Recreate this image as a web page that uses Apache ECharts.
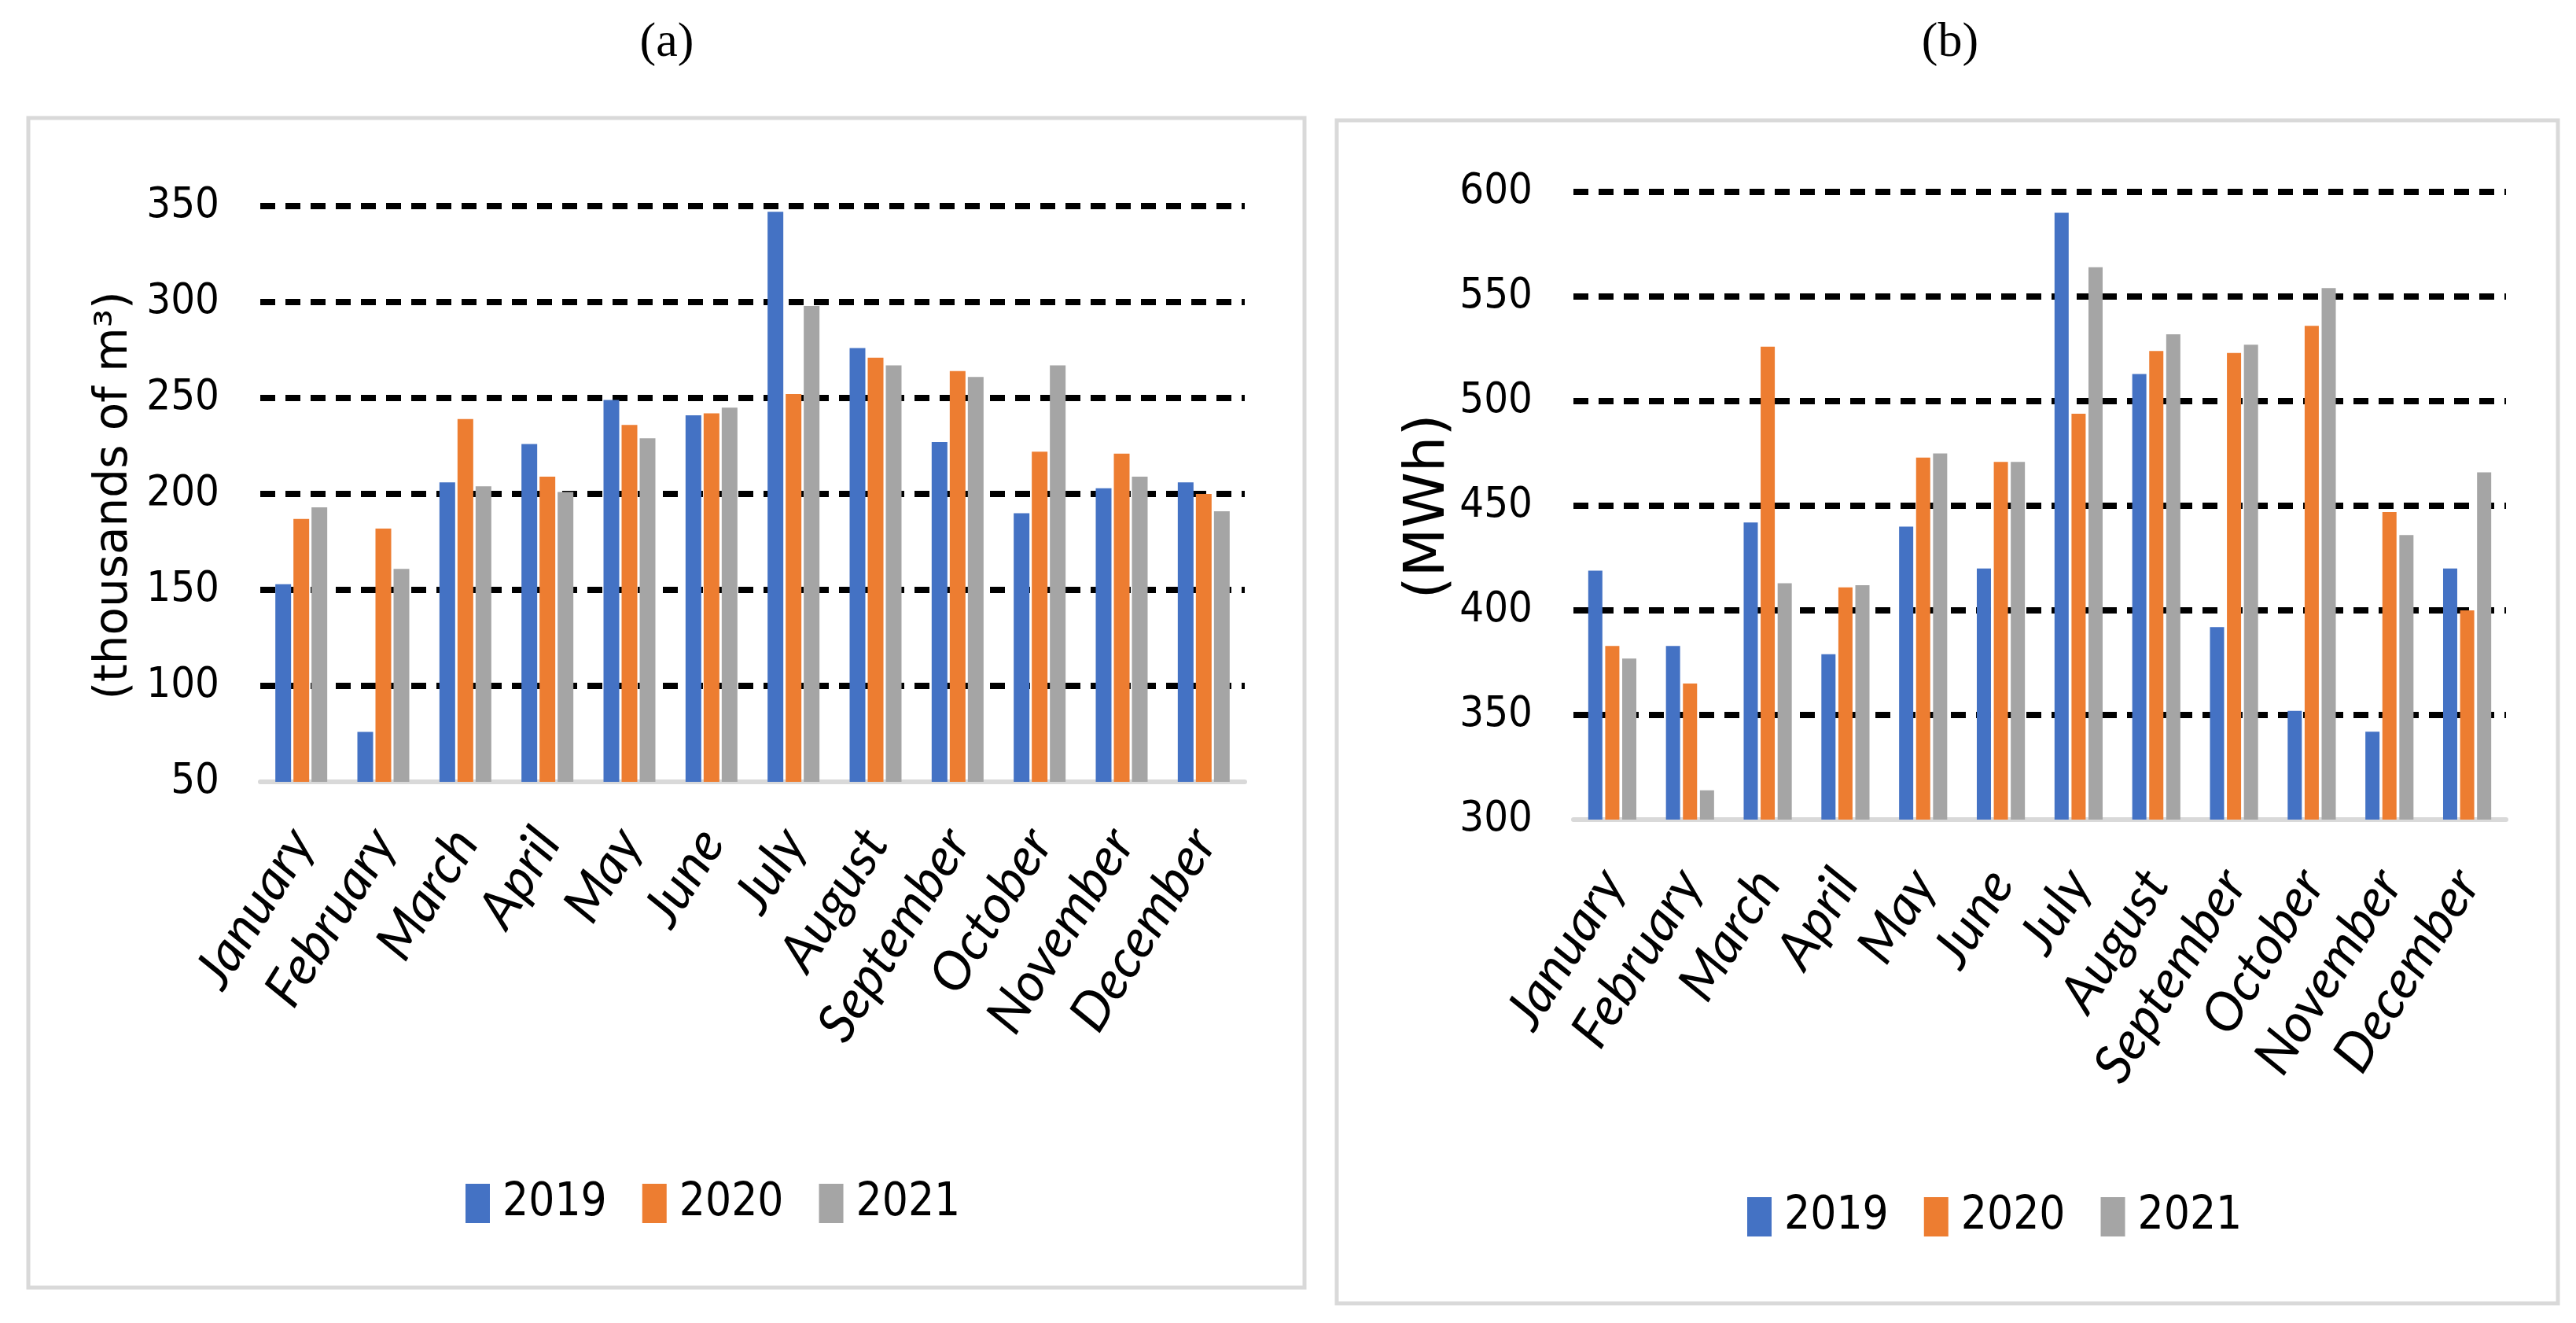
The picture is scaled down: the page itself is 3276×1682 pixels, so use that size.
<!DOCTYPE html>
<html>
<head>
<meta charset="utf-8">
<script src="https://cdn.jsdelivr.net/npm/echarts@6/dist/echarts.min.js"></script>
<style>
html,body{margin:0;padding:0;background:#fff;}
#chart{width:3276px;height:1682px;}
</style>
</head>
<body>
<div id="chart"></div>
<script>
// ---- data ----
const months = ['January','February','March','April','May','June','July','August','September','October','November','December'];
const years = ['2019','2020','2021'];
const water2019 = [153, 76, 206, 226, 249, 241, 347, 276, 227, 190, 203, 206];
const water2020 = [187, 182, 239, 209, 236, 242, 252, 271, 264, 222, 221, 200];
const water2021 = [193, 161, 204, 201, 229, 245, 298, 267, 261, 267, 209, 191];
const energy2019 = [419, 383, 442, 379, 440, 420, 590, 513, 392, 352, 342, 420];
const energy2020 = [383, 365, 526, 411, 473, 471, 494, 524, 523, 536, 447, 400];
const energy2021 = [377, 314, 413, 412, 475, 471, 564, 532, 527, 554, 436, 466];
const waterTicks = [50, 100, 150, 200, 250, 300, 350];
const energyTicks = [300, 350, 400, 450, 500, 550, 600];

const colors = ['#4472C4', '#ED7D31', '#A5A5A5'];

// pick the narrowest available installed sans font for numbers
function fontExists(name) {
  const c = document.createElement('canvas').getContext('2d');
  const s = '0123456789 abcdefghijklmnopqrstuvwxyz';
  c.font = '60px monospace';
  const w1 = c.measureText(s).width;
  c.font = "60px '" + name + "', monospace";
  const w2 = c.measureText(s).width;
  c.font = '60px serif';
  const w3 = c.measureText(s).width;
  c.font = "60px '" + name + "', serif";
  const w4 = c.measureText(s).width;
  return w1 !== w2 || w3 !== w4;
}
let numFont = "Roboto, sans-serif", numSize = 54, legSize = 58;
if (fontExists('Liberation Sans Narrow')) { numFont = "'Liberation Sans Narrow', sans-serif"; numSize = 60; legSize = 66; }
else if (fontExists('DejaVu Sans Condensed')) { numFont = "'DejaVu Sans Condensed', sans-serif"; numSize = 54; legSize = 58; }

const chart = echarts.init(document.getElementById('chart'), null, {renderer: 'canvas'});

function yAxis(idx, ticks) {
  return {
    type: 'value', gridIndex: idx,
    min: ticks[0], max: ticks[ticks.length - 1], interval: ticks[1] - ticks[0],
    axisLine: {show: false}, axisTick: {show: false},
    axisLabel: {color: '#000', fontSize: numSize, fontFamily: numFont, margin: 52},
    splitLine: {show: true, showMinLine: false, lineStyle: {color: '#000', width: 8, type: [19, 13]}}
  };
}
function xAxis(idx, margin) {
  return {
    type: 'category', gridIndex: idx, data: months,
    axisLine: {show: true, lineStyle: {color: '#d9d9d9', width: 6}},
    axisTick: {show: false},
    axisLabel: {interval: 0, rotate: 58, margin: margin, color: '#000', fontSize: 68,
      fontStyle: 'italic', fontFamily: "Lato, 'Open Sans', sans-serif"}
  };
}
function legend(left, top) {
  return {
    data: years, left: left, top: top, orient: 'horizontal',
    itemWidth: 31, itemHeight: 50, itemGap: 45, icon: 'rect',
    textStyle: {color: '#000', fontSize: legSize, fontFamily: numFont, lineHeight: 50,
      width: 105, overflow: 'none', padding: [0, 0, 0, 11]}
  };
}
const water = [water2019, water2020, water2021];
const energy = [energy2019, energy2020, energy2021];
const series = [];
years.forEach((y, i) => {
  series.push({name: y, type: 'bar', xAxisIndex: 0, yAxisIndex: 0, data: water[i],
    barWidth: 20, barGap: '15%', itemStyle: {color: colors[i]}});
});
years.forEach((y, i) => {
  series.push({name: y, type: 'bar', xAxisIndex: 1, yAxisIndex: 1, data: energy[i],
    barWidth: 18, barGap: '20%', itemStyle: {color: colors[i]}});
});

chart.setOption({
  backgroundColor: '#fff',
  animation: false,
  grid: [
    {left: 331, right: 3276 - 1583, top: 262, bottom: 1682 - 994},
    {left: 2001, right: 3276 - 3187, top: 244, bottom: 1682 - 1042}
  ],
  xAxis: [xAxis(0, 66), xAxis(1, 70)],
  yAxis: [yAxis(0, waterTicks), yAxis(1, energyTicks)],
  legend: [legend(587, 1496), legend(2217, 1513)],
  series: series,
  graphic: [
    {type: 'rect', shape: {x: 36, y: 150, width: 1623, height: 1487}, style: {fill: 'none', stroke: '#d9d9d9', lineWidth: 5}, z: -1},
    {type: 'rect', shape: {x: 1700, y: 153, width: 1553, height: 1504}, style: {fill: 'none', stroke: '#d9d9d9', lineWidth: 5}, z: -1},
    {type: 'text', x: 848, y: 55, style: {text: '(a)', fill: '#000', font: "62px 'Liberation Serif', serif", textAlign: 'center', textVerticalAlign: 'middle'}},
    {type: 'text', x: 2480, y: 55, style: {text: '(b)', fill: '#000', font: "62px 'Liberation Serif', serif", textAlign: 'center', textVerticalAlign: 'middle'}},
    {type: 'text', x: 146, y: 630, rotation: Math.PI / 2, style: {text: '(thousands of m³)', fill: '#000', font: "58px 'DejaVu Sans', sans-serif", textAlign: 'center', textVerticalAlign: 'middle'}},
    {type: 'text', x: 1817, y: 644, rotation: Math.PI / 2, style: {text: '(MWh)', fill: '#000', font: "72px 'DejaVu Sans', sans-serif", textAlign: 'center', textVerticalAlign: 'middle'}}
  ]
});
</script>
</body>
</html>
